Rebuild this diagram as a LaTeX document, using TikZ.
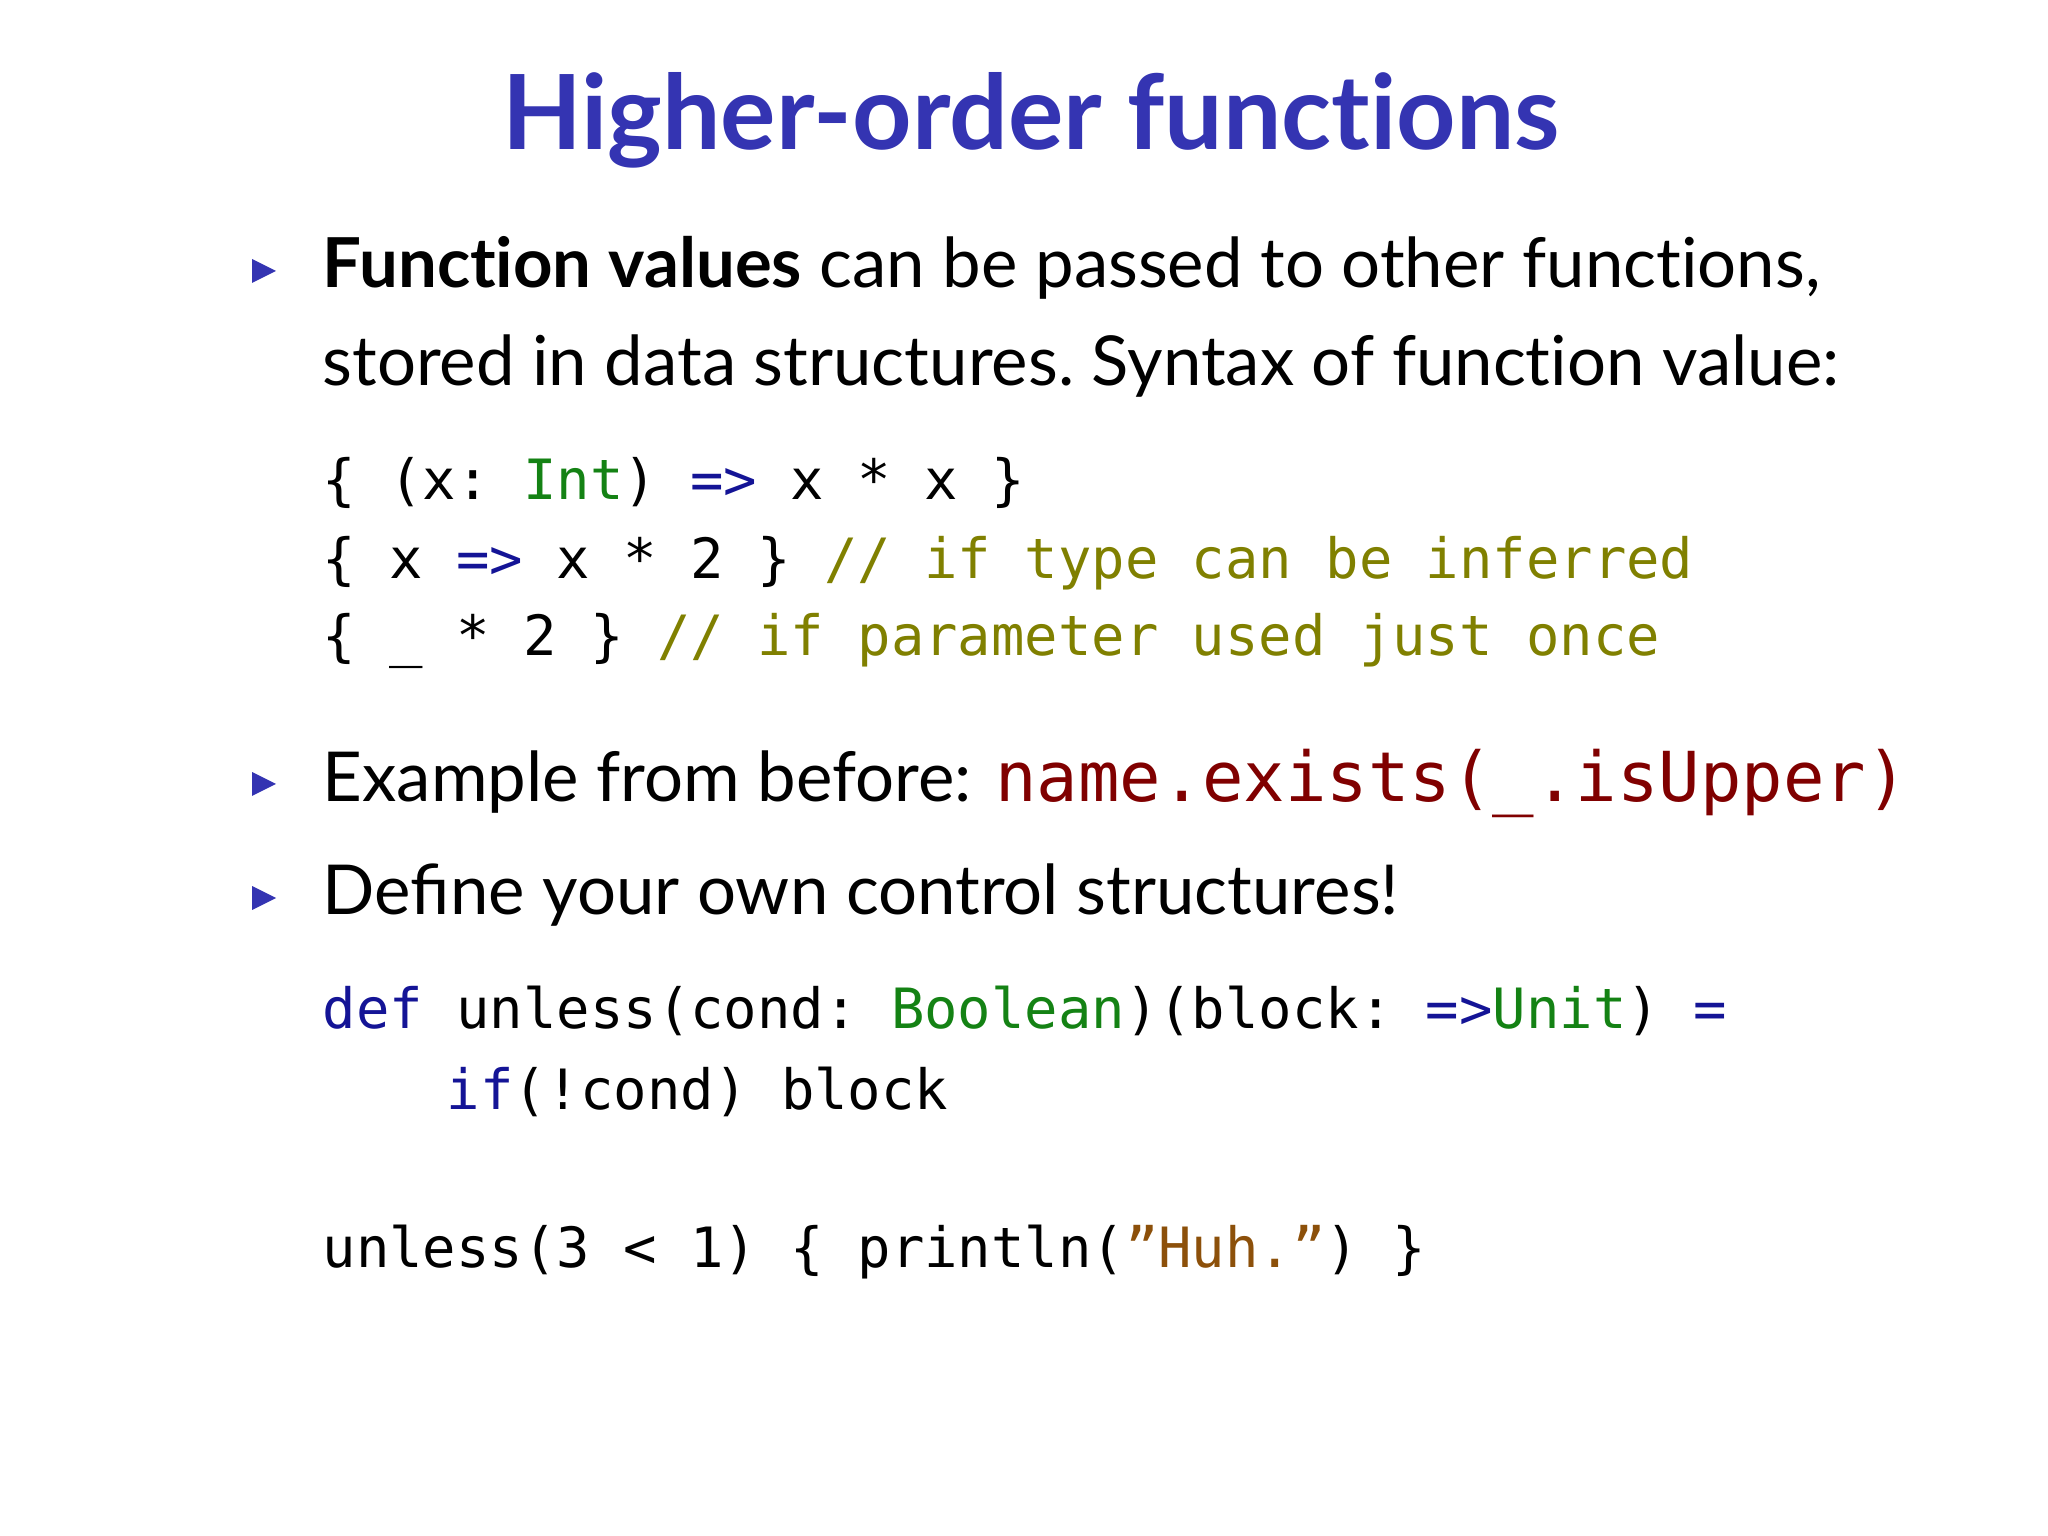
\documentclass[tikz,border=0pt]{standalone}
\usepackage{fontspec}
\setmainfont{Lato}
\setmonofont{DejaVu Sans Mono}
\definecolor{titleblue}{RGB}{52,52,178}
\definecolor{kw}{RGB}{20,20,150}
\definecolor{ty}{RGB}{20,130,20}
\definecolor{cm}{RGB}{128,128,0}
\definecolor{rd}{RGB}{128,0,0}
\definecolor{st}{RGB}{140,80,10}
\newcommand{\ti}{t\kern0pt i}
\tikzset{
 txt/.style={anchor=base west,inner sep=0pt,font=\fontsize{19.6}{24}\selectfont},
 code/.style={anchor=base west,inner sep=0pt,font=\fontsize{15.8}{20}\ttfamily},
 bul/.style={fill=titleblue,draw=none}
}
\begin{document}
\begin{tikzpicture}
\useasboundingbox (0,0) rectangle (20.48,-15.36);
\node[anchor=base,inner sep=0pt,font=\fontsize{29.5}{36}\selectfont\bfseries,text=titleblue] (title) at (10.31,-1.50) {Higher-order func\ti ons};
\foreach \n/\y in {b1/2.71,b2/7.84,b3/8.98}{
  \fill[bul] (2.52,-\y+0.12) -- (2.52,-\y-0.12) -- (2.76,-\y) -- cycle;
}
\node[txt] (t1) at (3.22,-2.88) {\textbf{Func\ti on values} can be passed to other func\ti ons,};
\node[txt] (t2) at (3.22,-3.86) {stored in data structures.\ Syntax of func\ti on value:};
\node[code] (c1) at (3.22,-4.99) {\{ (x: \textcolor{ty}{Int}) \textcolor{kw}{=>} x * x \}};
\node[code] (c2) at (3.22,-5.78) {\{ x \textcolor{kw}{=>} x * 2 \} \textcolor{cm}{// if type can be inferred}};
\node[code] (c3) at (3.22,-6.56) {\{ \_ * 2 \} \textcolor{cm}{// if parameter used just once}};
\node[txt] (t3) at (3.22,-8.01) {Example from before: \textcolor{rd}{\ttfamily name.exists(\_.isUpper)}};
\node[txt] (t4) at (3.22,-9.15) {Define your own control structures!};
\node[code] (c4) at (3.22,-10.29) {\textcolor{kw}{def} unless(cond: \textcolor{ty}{Boolean})(block: \textcolor{kw}{=>}\textcolor{ty}{Unit}) \textcolor{kw}{=}};
\node[code] (c5) at (4.46,-11.09) {\textcolor{kw}{if}(!cond) block};
\node[code] (c6) at (3.22,-12.67) {unless(3 < 1) \{ println(\textcolor{st}{”Huh.”}) \}};
\end{tikzpicture}
\end{document}
